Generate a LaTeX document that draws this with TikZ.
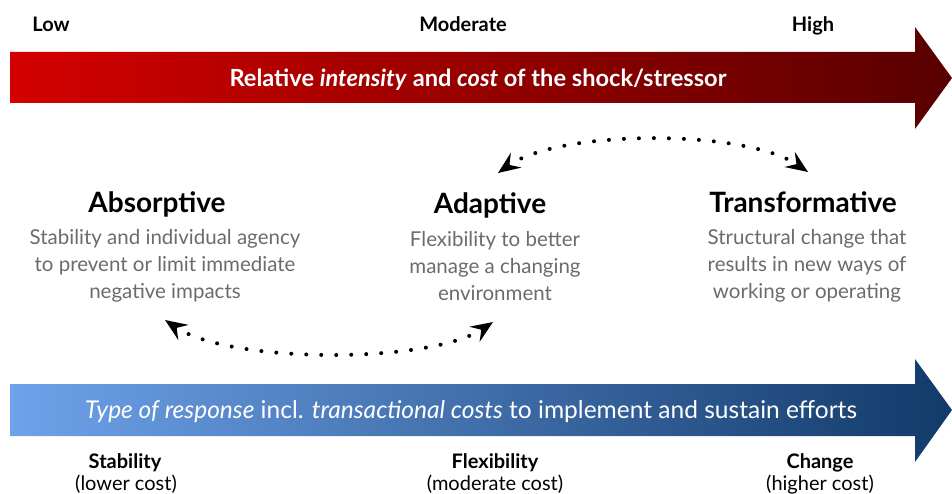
\documentclass[tikz,border=0pt]{standalone}
\usepackage{fontspec}
\setmainfont{Lato}
\usetikzlibrary{arrows.meta}
\definecolor{redL}{HTML}{D40000}
\definecolor{redR}{HTML}{580000}
\definecolor{blueL}{HTML}{6EA2EA}
\definecolor{blueM}{HTML}{0066B8}
\definecolor{blueR}{HTML}{123A69}
\definecolor{desccol}{HTML}{6B6B6B}
\begin{document}
\begin{tikzpicture}[x=1pt,y=-1pt,
  every node/.style={inner sep=0pt, outer sep=0pt},
  scalelabel/.style={font=\bfseries\fontsize{20}{24}\selectfont, anchor=base},
  subnote/.style={font=\fontsize{20}{24}\selectfont, anchor=base},
  titlelabel/.style={font=\bfseries\fontsize{28}{32}\selectfont, anchor=base},
  desclabel/.style={font=\fontsize{20.5}{26.7}\selectfont, text=desccol, align=center, anchor=base},
  bartext/.style={text=white, anchor=base},
  dotarrow/.style={line width=4pt, dash pattern=on 0pt off 15pt, line cap=round,
     {Stealth[length=22pt,width=18pt,inset=8pt]}-{Stealth[length=22pt,width=18pt,inset=8pt]}}]
\useasboundingbox (0,0) rectangle (952,494);

% red arrow
\shade[left color=redL, right color=redR]
  (10,52) -- (915,52) -- (915,27) -- (952,78) -- (915,129) -- (915,103) -- (10,103) -- cycle;
% blue arrow
\shade[left color=blueL, middle color=blueM, right color=blueR]
  (10,384) -- (915,384) -- (915,359) -- (952,410) -- (915,462) -- (915,436) -- (10,436) -- cycle;

% scale labels
\node[scalelabel] (low) at (51,32) {Low};
\node[scalelabel] (moderate) at (463,32) {Moderate};
\node[scalelabel] (high) at (813,32) {High};

\node[bartext] (redtext) at (478,87) {\resizebox{497pt}{!}{\bfseries Relative \textit{intensity} and \textit{cost} of the shock/stressor}};
\node[bartext] (bluetext) at (471,418) {\resizebox{772pt}{!}{\textit{Type of response} incl. \textit{transactional costs} to implement and sustain efforts}};

% titles
\node[titlelabel] (abs) at (157,213) {Absorptive};
\node[titlelabel] (ada) at (490,214) {Adaptive};
\node[titlelabel] (tra) at (803,213) {Transformative};

\node[desclabel] (absd) at (165,298) {Stability and individual agency\\to prevent or limit immediate\\negative impacts};
\node[desclabel] (adad) at (495,300) {Flexibility to better\\manage a changing\\environment};
\node[desclabel] (trad) at (807,298) {Structural change that\\results in new ways of\\working or operating};

% bottom labels
\node[scalelabel] (stab) at (125,468) {Stability};
\node[subnote] (stabc) at (126,490) {(lower cost)};
\node[scalelabel] (flex) at (495,468) {Flexibility};
\node[subnote] (flexc) at (495,490) {(moderate cost)};
\node[scalelabel] (chg) at (820,468) {Change};
\node[subnote] (chgc) at (820,490) {(higher cost)};

% dotted arrows
\coordinate (b1) at (165,320);
\coordinate (b2) at (493,322);
\coordinate (t1) at (498,173);
\coordinate (t2) at (808,172);
\draw[dotarrow] (b1) .. controls (230,364) and (430,364) .. (b2);
\draw[dotarrow] (t1) .. controls (560,129) and (745,129) .. (t2);
\end{tikzpicture}
\end{document}
